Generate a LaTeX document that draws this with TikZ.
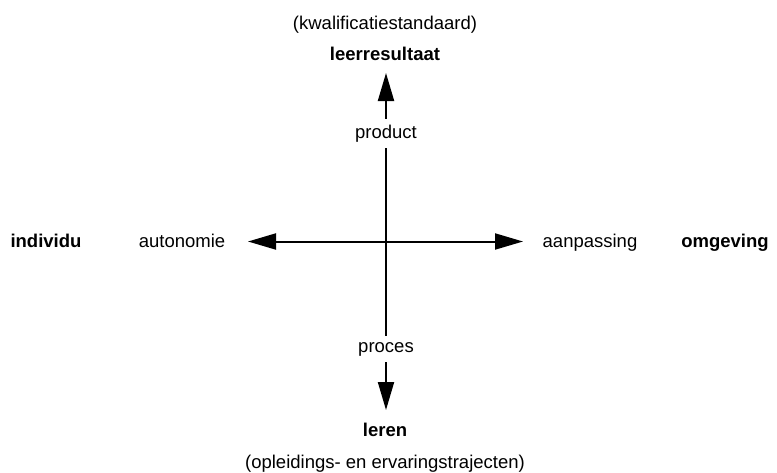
\documentclass[tikz,border=0pt]{standalone}
\usepackage{fontspec}
\setmainfont{Liberation Sans}
\usetikzlibrary{arrows.meta}
\begin{document}
\begin{tikzpicture}[x=1pt,y=-1pt,
  lbl/.style={inner sep=0pt,anchor=base,font=\fontsize{18.5}{21}\selectfont},
  bold/.style={lbl,font=\fontsize{18.5}{21}\selectfont\bfseries},
  onln/.style={lbl,fill=white,inner xsep=2pt,inner ysep=6pt},
  arr/.style={line width=2pt,-{Triangle[length=28pt,width=16pt]}}]
\useasboundingbox (0,0) rectangle (777,472);
\coordinate (c) at (386,241.5);
\coordinate (tipup) at (386,73);
\coordinate (tipdown) at (386,410);
\coordinate (tipleft) at (248,241.5);
\coordinate (tipright) at (523,241.5);
\draw[arr] (c) -- (tipup);
\draw[arr] (c) -- (tipdown);
\draw[arr] (c) -- (tipleft);
\draw[arr] (c) -- (tipright);
\node[onln] (product) at (386,138) {product};
\node[onln] (proces) at (386,352) {proces};
\node[lbl] (kwal) at (385,29) {(kwalificatiestandaard)};
\node[bold] (leerres) at (385,60) {leerresultaat};
\node[bold] (leren) at (385,436) {leren};
\node[lbl] (opl) at (385,468) {(opleidings- en ervaringstrajecten)};
\node[bold] (individu) at (46,247) {individu};
\node[lbl] (autonomie) at (182,247) {autonomie};
\node[lbl] (aanpassing) at (590,247) {aanpassing};
\node[bold] (omgeving) at (725,247) {omgeving};
\end{tikzpicture}
\end{document}
